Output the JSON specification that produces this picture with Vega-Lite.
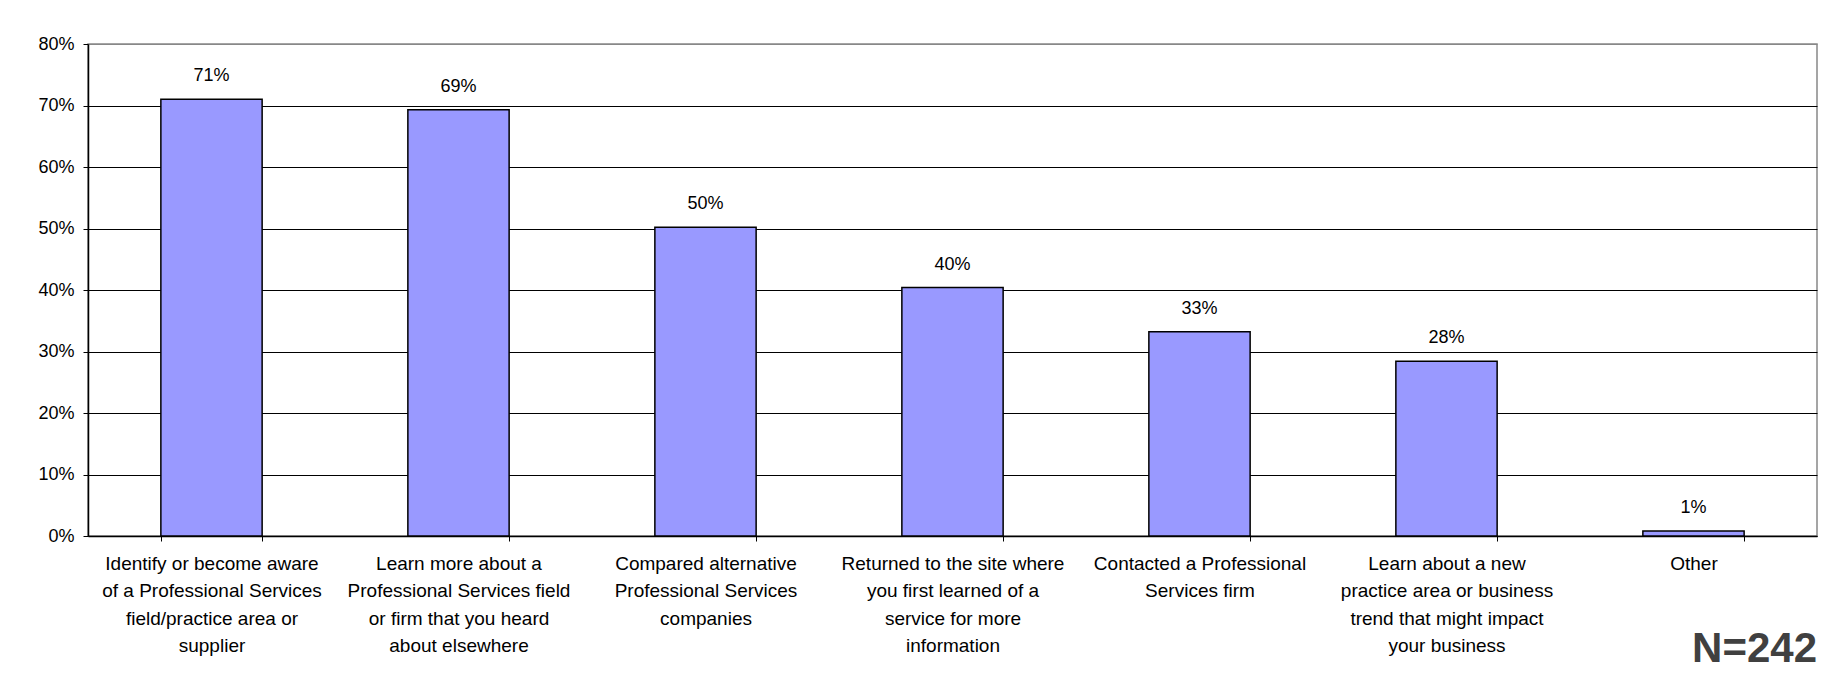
{
  "$schema": "https://vega.github.io/schema/vega-lite/v6.json",
  "autosize": {"type": "none"},
  "width": 1729,
  "height": 492,
  "padding": {"left": 88, "top": 44, "right": 15, "bottom": 146},
  "background": "white",
  "config": {
    "font": "Liberation Sans",
    "view": {"stroke": "#888888", "strokeWidth": 1.5},
    "axis": {"labelFont": "Liberation Sans", "labelColor": "#000000", "titleFont": "Liberation Sans"}
  },
  "title": {
    "text": "N=242",
    "orient": "bottom",
    "anchor": "end",
    "frame": "group",
    "font": "Liberation Sans",
    "fontSize": 42,
    "fontWeight": "bold",
    "color": "#404040",
    "offset": -27
  },
  "data": {
    "values": [
      {"category": "Identify or become aware|of a Professional Services|field/practice area or|supplier", "share": 0.71},
      {"category": "Learn more about a|Professional Services field|or firm that you heard|about elsewhere", "share": 0.693},
      {"category": "Compared alternative|Professional Services|companies", "share": 0.502},
      {"category": "Returned to the site where|you first learned of a|service for more|information", "share": 0.404},
      {"category": "Contacted a Professional|Services firm", "share": 0.332},
      {"category": "Learn about a new|practice area or business|trend that might impact|your business", "share": 0.284},
      {"category": "Other", "share": 0.008}
    ]
  },
  "encoding": {
    "x": {
      "field": "category",
      "type": "nominal",
      "sort": null,
      "scale": {"paddingInner": 0.59, "paddingOuter": 0.295},
      "axis": {
        "title": null,
        "labelAngle": 0,
        "labelExpr": "split(datum.label, '|')",
        "labelFontSize": 19,
        "labelLineHeight": 27.5,
        "labelPadding": 13,
        "labelLimit": 400,
        "tickBand": "extent",
        "tickSize": 5,
        "tickColor": "#000000",
        "domainColor": "#000000",
        "domainWidth": 1.5,
        "grid": false
      }
    },
    "y": {
      "field": "share",
      "type": "quantitative",
      "scale": {"domain": [0, 0.8], "nice": false},
      "axis": {
        "title": null,
        "values": [0, 0.1, 0.2, 0.3, 0.4, 0.5, 0.6, 0.7, 0.8],
        "format": ".0%",
        "labelFontSize": 18,
        "labelPadding": 9,
        "tickSize": 5,
        "tickColor": "#000000",
        "domainColor": "#000000",
        "domainWidth": 1.5,
        "grid": true,
        "gridColor": {"condition": {"test": "datum.value >= 0.8", "value": "#888888"}, "value": "#000000"},
        "gridWidth": 1
      }
    }
  },
  "layer": [
    {
      "mark": {"type": "bar", "color": "#9999FF", "stroke": "#000000", "strokeWidth": 1.5}
    },
    {
      "mark": {"type": "text", "baseline": "alphabetic", "dy": -18, "fontSize": 18, "color": "#000000"},
      "encoding": {
        "text": {"field": "share", "type": "quantitative", "format": ".0%"}
      }
    }
  ]
}
